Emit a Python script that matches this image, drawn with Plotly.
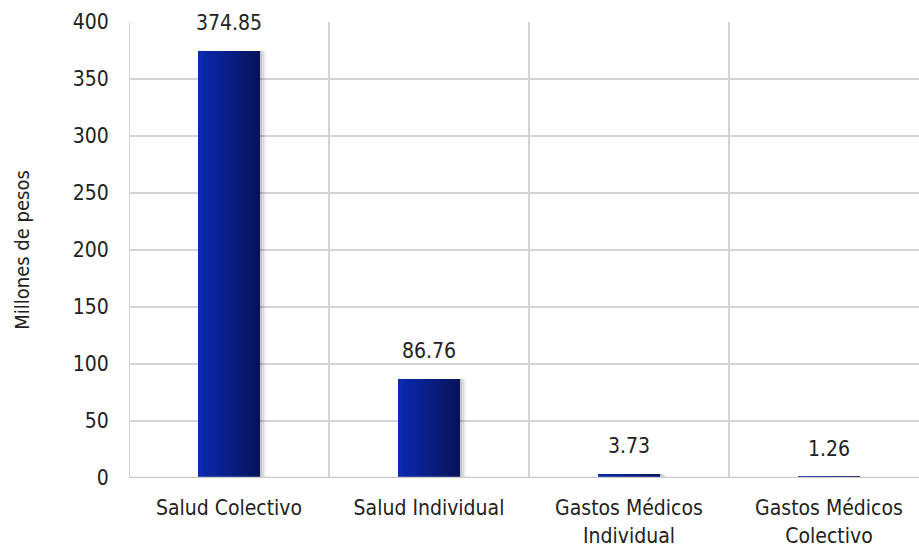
import plotly.graph_objects as go

categories = ["Salud Colectivo", "Salud Individual", "Gastos Médicos<br>Individual", "Gastos Médicos<br>Colectivo"]
values = [374.85, 86.76, 3.73, 1.26]
labels = ["374.85", "86.76", "3.73", "1.26"]
y_ticks = [0, 50, 100, 150, 200, 250, 300, 350, 400]

FONT = "DejaVu Sans Condensed, Liberation Sans Narrow, Arial Narrow, sans-serif"
BAR_W = 0.31
N_STEPS = 14
x_idx = list(range(len(categories)))

fig = go.Figure()

# soft shadow
for k, a in enumerate([0.06, 0.08, 0.10]):
    fig.add_trace(go.Bar(
        x=x_idx, y=values, width=BAR_W, offset=-BAR_W / 2 + 0.012 + 0.008 * (2 - k),
        marker=dict(color=f"rgba(0,0,0,{a})", line=dict(width=0)),
        hoverinfo="skip", showlegend=False))

# gradient bars: widest darkest first, narrower lighter on top (left-aligned)
light = (10, 42, 176)
dark = (8, 20, 90)
for i in range(N_STEPS):
    t = i / (N_STEPS - 1)
    w = BAR_W * (1 - i / N_STEPS)
    c = tuple(int(dark[j] + (light[j] - dark[j]) * t) for j in range(3))
    fig.add_trace(go.Bar(
        x=x_idx, y=values, width=w, offset=-BAR_W / 2,
        marker=dict(color=f"rgb{c}", line=dict(width=0)),
        hoverinfo="skip", showlegend=False))

for xi, v, lab in zip(x_idx, values, labels):
    fig.add_annotation(x=xi, y=v, text=lab, showarrow=False, yanchor="bottom",
                       yshift=14, font=dict(family=FONT, size=21, color="#222222"))

# category separators
for xi in x_idx[:-1]:
    fig.add_shape(type="line", xref="x", yref="y", x0=xi + 0.5, x1=xi + 0.5, y0=0, y1=400,
                  line=dict(color="#d4d4d4", width=2), layer="below")
fig.add_shape(type="line", xref="x", yref="y", x0=-0.5, x1=-0.5, y0=0, y1=400,
              line=dict(color="#d4d4d4", width=2), layer="below")
# baseline above bars
fig.add_shape(type="line", xref="paper", yref="y", x0=0, x1=1, y0=0, y1=0,
              line=dict(color="#c8c8c8", width=2.5), layer="above")

fig.update_layout(
    width=919, height=548,
    margin=dict(l=129, r=0, t=22, b=70, autoexpand=False),
    plot_bgcolor="white", paper_bgcolor="white",
    barmode="overlay", bargap=0,
    font=dict(family=FONT, size=19, color="#222222"),
    xaxis=dict(tickmode="array", tickvals=x_idx, ticktext=categories,
               range=[-0.5, 3.45], showgrid=False, zeroline=False, automargin=False,
               ticks="outside", ticklen=11, tickcolor="rgba(0,0,0,0)",
               tickfont=dict(family=FONT, size=21, color="#222222")),
    yaxis=dict(range=[0, 400], tickvals=y_ticks, showgrid=True,
               gridcolor="#d4d4d4", gridwidth=2, zeroline=False, automargin=False,
               ticks="outside", ticklen=15, tickcolor="rgba(0,0,0,0)",
               tickfont=dict(family=FONT, size=21, color="#222222"),
               title=dict(text="Millones de pesos", standoff=37,
                          font=dict(family=FONT, size=20, color="#222222"))),
)

fig.write_html("out.html", config={"displayModeBar": False},
               post_script="document.body.style.margin='0';")
